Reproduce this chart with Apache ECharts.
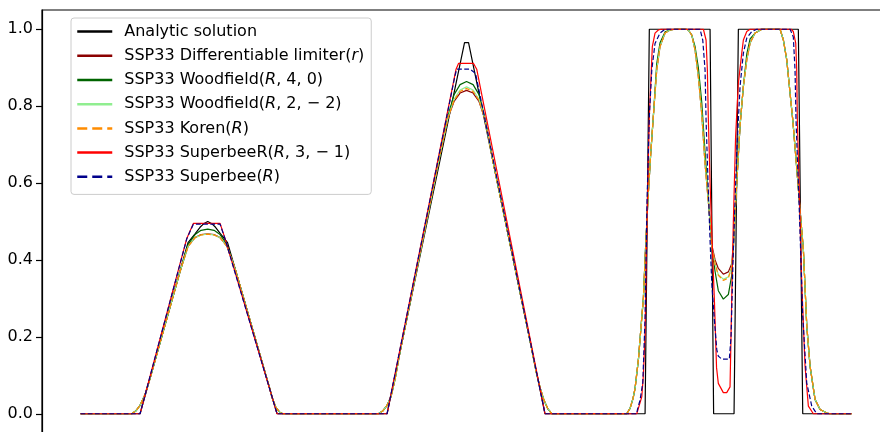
<!DOCTYPE html>
<html>
<head>
<meta charset="UTF-8">
<title>SSP33 limiters</title>
<script src="https://cdn.jsdelivr.net/npm/echarts@6/dist/echarts.min.js"></script>
<style>
  html, body { margin: 0; padding: 0; background: #fff; }
</style>
</head>
<body>
<div id="main" style="width:880px;height:432px"></div>
<script type="text/javascript">
// exact solution, [x, u] corners
var analytic = [[0,0],[0.0772,0],[0.1394,0.445],[0.1485,0.468],[0.155,0.485],[0.1602,0.495],[0.165,0.5],
  [0.1699,0.495],[0.1751,0.485],[0.1816,0.468],[0.1907,0.445],[0.2549,0],[0.3976,0],[0.4981,0.965],
  [0.5033,0.965],[0.6025,0],[0.7323,0],[0.7378,1],[0.8166,1],[0.8212,0],[0.8477,0],[0.8533,1],
  [0.9311,1],[0.9368,0],[1,0]];

// SSP33 SuperbeeR(R,3,-1)
var superbeeR = [[0,0],[0.0772,0],[0.1378,0.456],[0.1463,0.495],[0.181,0.495],[0.1874,0.456],[0.2549,0],
  [0.3976,0],[0.4871,0.896],[0.4903,0.911],[0.5098,0.911],[0.5139,0.896],[0.6025,0],[0.7215,0],
  [0.7236,0.014],[0.728,0.044],[0.7301,0.1],[0.7323,0.21],[0.7348,0.5],[0.7378,0.773],[0.7417,0.955],
  [0.7452,0.99],[0.7495,0.998],[0.753,1],[0.8079,1],[0.8114,0.972],[0.8131,0.894],[0.8144,0.764],
  [0.8166,0.6],[0.8192,0.45],[0.8222,0.296],[0.825,0.12],[0.8273,0.079],[0.8338,0.055],[0.8382,0.055],
  [0.8425,0.07],[0.8447,0.3],[0.8468,0.5],[0.8497,0.72],[0.8533,0.86],[0.8577,0.938],[0.8598,0.972],
  [0.8642,0.994],[0.8685,1],[0.9217,1],[0.9246,0.994],[0.9277,0.964],[0.929,0.894],[0.9298,0.764],
  [0.9327,0.55],[0.9355,0.341],[0.9398,0.124],[0.9441,0.02],[0.9506,0],[1,0]];

// SSP33 Superbee(R)
var superbee = [[0,0],[0.0772,0],[0.1378,0.455],[0.1463,0.493],[0.181,0.493],[0.1874,0.455],[0.2549,0],
  [0.3976,0],[0.4858,0.88],[0.488,0.896],[0.5053,0.896],[0.5124,0.885],[0.6025,0],[0.7215,0],
  [0.7223,0.01],[0.7258,0.036],[0.7293,0.08],[0.7323,0.25],[0.7348,0.55],[0.7378,0.773],[0.741,0.894],
  [0.7452,0.963],[0.7517,0.99],[0.7582,1],[0.8036,1],[0.8071,0.972],[0.8101,0.894],[0.8114,0.764],
  [0.814,0.6],[0.8166,0.45],[0.8188,0.34],[0.8218,0.254],[0.8253,0.167],[0.8273,0.15],[0.8318,0.142],
  [0.8416,0.142],[0.8438,0.2],[0.8464,0.4],[0.8512,0.68],[0.8555,0.851],[0.8598,0.938],[0.8642,0.977],
  [0.8707,0.994],[0.8772,1],[0.9204,1],[0.9246,0.98],[0.9268,0.894],[0.9281,0.764],[0.932,0.55],
  [0.9368,0.254],[0.942,0.08],[0.9485,0.02],[0.955,0],[1,0]];

// the smoother limiters share one set of x positions
var smoothX = [0,0.0664,0.072,0.0772,0.0837,0.0902,0.1291,0.1394,0.1485,0.1563,
  0.165,0.1732,0.181,0.19,0.2004,0.2458,0.2484,0.2536,0.2588,0.2627,
  0.3863,0.3924,0.3976,0.4028,0.408,0.4144,0.4663,0.4767,0.4845,0.4923,
  0.5007,0.5092,0.5169,0.5247,0.5351,0.5831,0.5909,0.5961,0.6012,0.6064,
  0.6116,0.7085,0.7128,0.7167,0.7193,0.7236,0.728,0.7301,0.7329,0.7361,
  0.7394,0.743,0.7474,0.7517,0.7582,0.7647,0.7712,0.7854,0.7884,0.7928,
  0.7971,0.8014,0.8058,0.8101,0.814,0.8166,0.8188,0.8231,0.8273,0.8338,
  0.8403,0.8447,0.8471,0.849,0.8512,0.8555,0.8598,0.8642,0.8685,0.875,
  0.8837,0.9074,0.9117,0.9161,0.9204,0.9239,0.929,0.9333,0.9376,0.942,
  0.9463,0.9528,0.9593,0.968,0.9722,1];

var diffLimiterY = [0,0,0.008,0.022,0.05,0.092,0.37,0.435,0.458,0.466,
  0.468,0.466,0.458,0.435,0.378,0.063,0.042,0.016,0.003,0,
  0,0.008,0.022,0.045,0.09,0.16,0.673,0.77,0.812,0.834,
  0.841,0.834,0.812,0.765,0.655,0.19,0.11,0.068,0.035,0.012,
  0,0,0.014,0.04,0.066,0.14,0.25,0.3,0.43,0.56,
  0.67,0.773,0.894,0.955,0.99,0.998,1,1,0.998,0.985,
  0.946,0.877,0.78,0.65,0.56,0.5,0.44,0.4,0.378,0.363,
  0.369,0.39,0.45,0.52,0.6,0.75,0.851,0.92,0.964,0.99,
  1,1,0.972,0.92,0.833,0.764,0.64,0.53,0.428,0.23,
  0.124,0.037,0.011,0.002,0,0];

var woodfield40Y = [0,0,0.008,0.022,0.05,0.092,0.37,0.44,0.466,0.477,
  0.48,0.477,0.466,0.44,0.378,0.063,0.042,0.016,0.003,0,
  0,0.008,0.022,0.045,0.09,0.16,0.673,0.775,0.83,0.856,
  0.864,0.856,0.83,0.768,0.655,0.19,0.11,0.068,0.035,0.012,
  0,0,0.014,0.04,0.066,0.14,0.25,0.3,0.43,0.56,
  0.67,0.773,0.91,0.965,0.993,0.998,1,1,0.998,0.985,
  0.955,0.9,0.81,0.68,0.57,0.5,0.43,0.37,0.32,0.298,
  0.31,0.36,0.44,0.52,0.6,0.75,0.851,0.935,0.975,0.99,
  1,1,0.972,0.92,0.833,0.764,0.64,0.53,0.428,0.23,
  0.124,0.037,0.011,0.002,0,0];

var woodfield22Y = [0,0,0.008,0.022,0.05,0.092,0.37,0.435,0.458,0.465,
  0.467,0.465,0.458,0.435,0.378,0.063,0.042,0.016,0.003,0,
  0,0.008,0.022,0.045,0.09,0.16,0.673,0.77,0.818,0.842,
  0.85,0.842,0.818,0.765,0.655,0.19,0.11,0.068,0.035,0.012,
  0,0,0.014,0.04,0.066,0.14,0.25,0.3,0.43,0.56,
  0.67,0.773,0.894,0.955,0.99,0.998,1,1,0.998,0.985,
  0.946,0.877,0.78,0.65,0.56,0.5,0.435,0.39,0.362,0.35,
  0.356,0.382,0.445,0.52,0.6,0.75,0.851,0.92,0.964,0.99,
  1,1,0.972,0.92,0.833,0.764,0.64,0.53,0.428,0.23,
  0.124,0.037,0.011,0.002,0,0];

var korenY = [0,0,0.008,0.022,0.05,0.092,0.37,0.435,0.458,0.465,
  0.467,0.465,0.458,0.435,0.378,0.063,0.042,0.016,0.003,0,
  0,0.008,0.022,0.045,0.09,0.16,0.673,0.77,0.815,0.838,
  0.846,0.838,0.815,0.765,0.655,0.19,0.11,0.068,0.035,0.012,
  0,0,0.014,0.04,0.066,0.14,0.25,0.3,0.43,0.56,
  0.67,0.773,0.894,0.955,0.99,0.998,1,1,0.998,0.985,
  0.946,0.877,0.78,0.65,0.56,0.5,0.435,0.39,0.36,0.347,
  0.353,0.38,0.445,0.52,0.6,0.75,0.851,0.92,0.964,0.99,
  1,1,0.972,0.92,0.833,0.764,0.64,0.53,0.428,0.23,
  0.124,0.037,0.011,0.002,0,0];

var yTicks = [0, 0.2, 0.4, 0.6, 0.8, 1.0];

var names = ['Analytic solution', 'SSP33 Differentiable limiter(r)', 'SSP33 Woodfield(R, 4, 0)',
  'SSP33 Woodfield(R, 2, \u22122)', 'SSP33 Koren(R)', 'SSP33 SuperbeeR(R, 3, \u22121)', 'SSP33 Superbee(R)'];
var labels = ['Analytic solution', 'SSP33 Differentiable limiter({i|r})', 'SSP33 Woodfield({i|R}, 4, 0)',
  'SSP33 Woodfield({i|R}, 2, \u2212 2)', 'SSP33 Koren({i|R})', 'SSP33 SuperbeeR({i|R}, 3, \u2212 1)', 'SSP33 Superbee({i|R})'];
var colors = ['#000000', '#8b0000', '#006400', '#90ee90', '#ff8c00', '#ff0000', '#00008b'];
var dashed = [false, false, false, false, true, false, true];

function zipX(ys) {
  return smoothX.map(function (x, i) { return [x, ys[i]]; });
}
var seriesData = [analytic, zipX(diffLimiterY), zipX(woodfield40Y), zipX(woodfield22Y),
  zipX(korenY), superbeeR, superbee];

var FONT = 'DejaVu Sans';
var chart = echarts.init(document.getElementById('main'), null, { renderer: 'canvas' });

var option = {
  animation: false,
  backgroundColor: '#ffffff',
  grid: {
    left: 42, top: 10, right: -10, bottom: -1,
    show: true, borderColor: '#000', borderWidth: 1.2, backgroundColor: '#fff',
    outerBoundsMode: 'none'
  },
  xAxis: {
    type: 'value', min: -0.05, max: 1.05,
    axisLine: { show: false }, axisTick: { show: false }, axisLabel: { show: false },
    splitLine: { show: false }
  },
  yAxis: {
    type: 'value', min: -0.05, max: 1.05,
    axisLine: { show: true, onZero: false, lineStyle: { color: '#000', width: 1.2 } },
    axisTick: { show: true, length: 6, customValues: yTicks, lineStyle: { color: '#000', width: 1.2 } },
    axisLabel: {
      customValues: yTicks, margin: 9, color: '#000', fontFamily: FONT, fontSize: 16,
      formatter: function (v) { return v.toFixed(1); }
    },
    splitLine: { show: false }
  },
  legend: {
    orient: 'vertical', left: 71, top: 18,
    padding: [5.6, 7, 9.6, 5],
    itemWidth: 35, itemHeight: 16, itemGap: 8.2,
    backgroundColor: 'rgba(255,255,255,0.8)', borderColor: '#cccccc', borderWidth: 1, borderRadius: 3,
    lineStyle: { width: 2.5 },
    itemStyle: { opacity: 0 },
    selectedMode: false,
    textStyle: {
      fontFamily: FONT, fontSize: 16, color: '#000', lineHeight: 16, padding: [0, 0, 0, 7],
      rich: { i: { fontStyle: 'italic', fontFamily: FONT, fontSize: 16, color: '#000', lineHeight: 16 } }
    },
    formatter: function (name) { return labels[names.indexOf(name)]; },
    data: names
  },
  series: names.map(function (n, k) {
    return {
      name: n, type: 'line', data: seriesData[k],
      symbol: 'none', showSymbol: false, smooth: false, silent: true,
      itemStyle: { color: colors[k] },
      lineStyle: { color: colors[k], width: 1.2, type: dashed[k] ? 'dashed' : 'solid' },
      emphasis: { disabled: true }
    };
  })
};
chart.setOption(option);
</script>
</body>
</html>
